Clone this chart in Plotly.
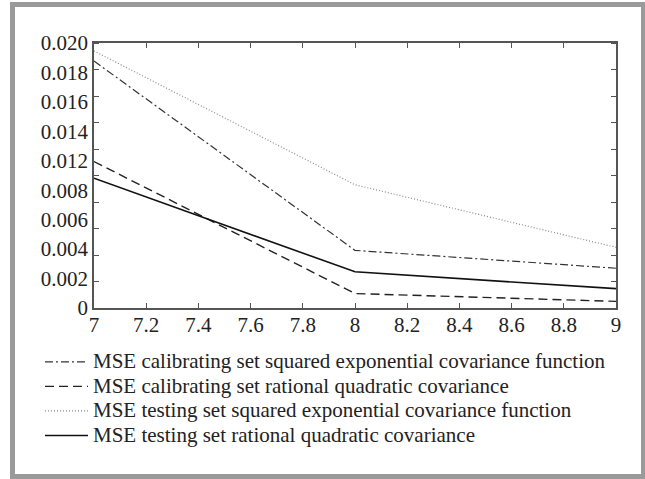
import numpy as np
import plotly.graph_objects as go

# ---- data ----
x_vals = [7, 8, 9]
mse_cal_se = [0.01864, 0.00435, 0.00300]
mse_cal_rq = [0.01105, 0.00109, 0.00050]
mse_test_se = [0.01940, 0.00930, 0.00458]
mse_test_rq = [0.00980, 0.00273, 0.00146]
series_names = [
    "MSE calibrating set squared exponential covariance function",
    "MSE calibrating set rational quadratic covariance",
    "MSE testing set squared exponential covariance function",
    "MSE testing set rational quadratic covariance",
]
y_tick_labels = ["0", "0.002", "0.004", "0.006", "0.008", "0.012",
                 "0.014", "0.016", "0.018", "0.020"]

# ---- figure ----
W_FIG, H_FIG = 645, 479
ML, MR, MT, MB = 94, 29, 43, 171
PW, PH = W_FIG - ML - MR, H_FIG - MT - MB
FONT = "Liberation Serif, Times New Roman, serif"
TEXT_SIZE = 21

styles = [
    dict(color="#333333", width=1.2, dash="8px,3px,2px,3px"),
    dict(color="#222222", width=1.4, dash="9px,5px"),
    dict(color="#8a8a8a", width=1.2, dash="1px,2px"),
    dict(color="#111111", width=1.6, dash="solid"),
]
series = [mse_cal_se, mse_cal_rq, mse_test_se, mse_test_rq]

fig = go.Figure()
for name, ys, st in zip(series_names, series, styles):
    fig.add_trace(go.Scatter(
        x=x_vals, y=ys, mode="lines",
        name='<span style="font-size:%dpx">%s</span>' % (TEXT_SIZE, name),
        line=st))

y_max = 0.020
label_pos = list(np.linspace(0, y_max, len(y_tick_labels)))

def px_x(p):
    return (p - ML) / PW

def px_y(p):
    return (MT + PH - p) / PH

fig.update_layout(
    width=W_FIG, height=H_FIG,
    margin=dict(l=ML, r=MR, t=MT, b=MB, autoexpand=False),
    paper_bgcolor="white", plot_bgcolor="white",
    font=dict(family=FONT, size=TEXT_SIZE, color="#222222"),
    showlegend=True,
    legend=dict(
        x=px_x(40), y=px_y(344.5), xanchor="left", yanchor="top",
        bgcolor="rgba(0,0,0,0)", borderwidth=0,
        font=dict(family=FONT, size=16.6, color="#222222"),
        itemwidth=43, tracegroupgap=0,
    ),
    xaxis=dict(
        range=[7, 9], tick0=7, dtick=0.2, ticks="inside", ticklen=5,
        tickcolor="#555555", showline=True, linecolor="#555555", linewidth=1.5,
        mirror="ticks", showgrid=False, zeroline=False, ticklabelstandoff=-3,
        tickfont=dict(family=FONT, size=TEXT_SIZE, color="#222222"),
    ),
    yaxis=dict(
        range=[0, y_max], tickmode="array", tickvals=label_pos,
        ticktext=y_tick_labels, ticks="", showline=True,
        linecolor="#555555", linewidth=1.5, mirror="ticks",
        showgrid=False, zeroline=False,
        tickfont=dict(family=FONT, size=TEXT_SIZE, color="#222222"),
        minor=dict(tickmode="linear", tick0=0, dtick=0.002, ticks="inside",
                   ticklen=5, tickcolor="#555555", showgrid=False),
    ),
    shapes=[dict(
        type="rect", xref="paper", yref="paper",
        x0=px_x(12.5), x1=px_x(643.5), y0=px_y(476.5), y1=px_y(4.5),
        line=dict(color="#9a9a9a", width=5), fillcolor="rgba(0,0,0,0)",
        layer="below",
    )],
)

fig.write_html("out.html", config={"displayModeBar": False},
               post_script="document.body.style.margin='0';document.body.style.overflow='hidden';")
